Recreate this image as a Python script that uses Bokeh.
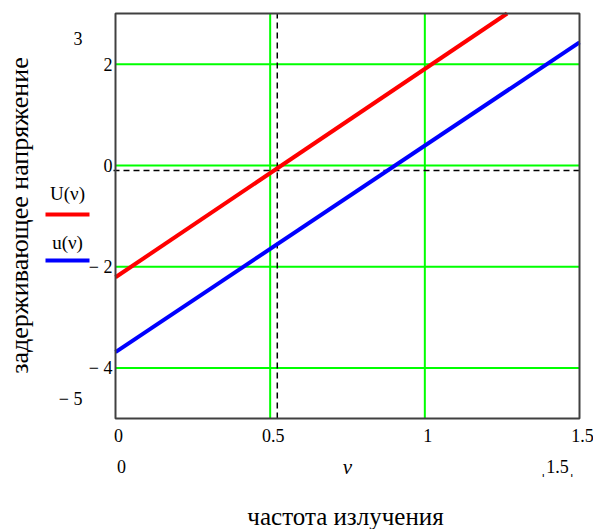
import math
from bokeh.plotting import figure
from bokeh.models import Range1d, Label
from bokeh.core.properties import value
from bokeh.embed import file_html
from bokeh.resources import INLINE

# ---- data ----
nu_U = [0.0, 1.266]
U_vals = [-2.21, 3.0]
nu_u = [0.0, 1.5]
u_vals = [-3.69, 2.43]
x_ticks = [0, 0.5, 1, 1.5]
x_tick_labels = ["0", "0.5", "1", "1.5"]
y_ticks = [-4, -2, 0, 2]
y_tick_labels = ["\u2212 4", "\u2212 2", "0", "2"]
x_grid = [0.5, 1]
y_grid = [-4, -2, 0, 2]
nu_marker = 0.523
U_marker = -0.10
x_lo, x_hi = 0.0, 1.5
y_lo, y_hi = -5.0, 3.0

# ---- layout (pixels of the page) ----
W, H = 593, 529
FL, FR, FT, FB = 115, 579, 13, 418          # plot box edges
sx = (FR - FL) / (x_hi - x_lo)
sy = (FB - FT) / (y_hi - y_lo)
def xd(X):
    return x_lo + (X - FL) / sx
def yd(Y):
    return y_hi - (Y - FT) / sy

FONT = "Liberation Serif"

p = figure(width=W, height=H, output_backend="svg", toolbar_location=None,
           x_axis_location=None, y_axis_location=None,
           x_range=Range1d(xd(0), xd(W)), y_range=Range1d(yd(H), yd(0)),
           min_border=0)
p.min_border_left = p.min_border_right = p.min_border_top = p.min_border_bottom = 0
p.outline_line_color = None
p.background_fill_color = "white"
p.border_fill_color = "white"
p.grid.visible = False

# grid lines inside the plot box
p.segment(x0=x_grid, y0=[y_lo] * len(x_grid), x1=x_grid, y1=[y_hi] * len(x_grid),
          line_color="#00ff00", line_width=2)
p.segment(x0=[x_lo] * len(y_grid), y0=y_grid, x1=[x_hi] * len(y_grid), y1=y_grid,
          line_color="#00ff00", line_width=2)

# dashed marker lines
p.segment(x0=[nu_marker], y0=[y_lo], x1=[nu_marker], y1=[y_hi],
          line_color="black", line_width=1.5, line_dash="6 4")
p.segment(x0=[xd(FL - 2)], y0=[U_marker], x1=[x_hi], y1=[U_marker],
          line_color="black", line_width=1.5, line_dash="6 4")

# data lines
p.line(nu_U, U_vals, line_color="#ff0000", line_width=4)
p.line(nu_u, u_vals, line_color="#0000ff", line_width=4)

# plot box
p.quad(left=[x_lo], right=[x_hi], bottom=[y_lo], top=[y_hi], fill_color=None,
       line_color="#404040", line_width=2)

# tick labels
p.text(x=x_ticks, y=[yd(435)] * len(x_ticks), text=x_tick_labels, x_offset=3,
       text_font=value(FONT), text_font_size="18px", text_color="black",
       text_align="center", text_baseline="middle")
p.text(x=[xd(112)] * len(y_ticks), y=y_ticks, text=y_tick_labels,
       text_font=value(FONT), text_font_size="18px", text_color="black",
       text_align="right", text_baseline="middle")

def lab(X, Y, t, size="18px", angle=0.0, align="center", style="normal"):
    p.add_layout(Label(x=xd(X), y=yd(Y), text=t, text_font=FONT, text_font_size=size,
                       text_color="black", text_align=align, text_baseline="middle",
                       angle=angle, text_font_style=style))

# range limit labels (Mathcad style)
lab(82, 38, "3", align="right")
lab(82, 398, "\u2212 5", align="right")
# second row of the x axis
lab(121, 466, "0")
lab(347, 466, "\u03bd", size="21px", style="italic")
lab(557, 466, "\u02cc1.5\u02cc")
# axis titles
lab(345, 516, "частота излучения", size="25px")
lab(19, 215, "задерживающее напряжение", size="26px", angle=math.pi / 2)
# legend
lab(67, 193, "U(\u03bd)", size="19px")
lab(67, 242, "u(\u03bd)", size="19px")
p.segment(x0=[xd(45)] * 2, y0=[yd(214), yd(260)], x1=[xd(89)] * 2, y1=[yd(214), yd(260)],
          line_color=["#ff0000", "#0000ff"], line_width=4)

open("out.html", "w").write(file_html(p, INLINE))
